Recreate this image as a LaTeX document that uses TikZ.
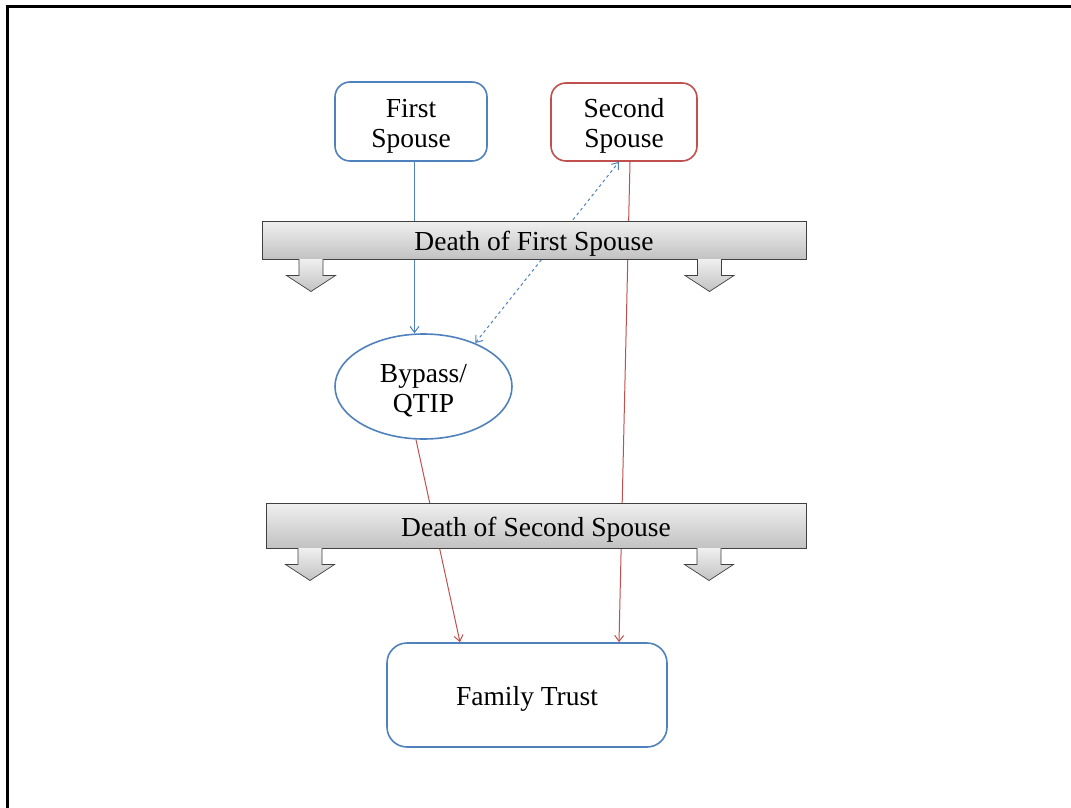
\documentclass[tikz,border=0pt]{standalone}
\usepackage{fontspec}
\setmainfont{Liberation Serif}
\usepackage{tikz}
\usetikzlibrary{shapes.geometric,arrows.meta}
\definecolor{spouseblue}{HTML}{4F81BD}
\definecolor{spousered}{HTML}{C0504D}

\begin{document}
\begin{tikzpicture}[x=10pt,y=10pt]
\tikzstyle{every node}+=[inner sep=0pt, font=\fontsize{27.5}{30}\selectfont, align=center, text height=27pt]
\tikzstyle{twoline}=[text height=57pt]
\tikzstyle{person}=[draw, rounded corners=15pt, line width=1.6pt, fill=white]
\tikzstyle{banner}=[draw=black!75, line width=0.7pt, top color=gray!12, bottom color=gray!48]
\tikzstyle{link}=[line width=1pt, -{Straight Barb[length=6pt,width=9pt]}]
\useasboundingbox (0,0) rectangle (107.1,-80.8);
\draw [black, line width=3pt] (0.7,-80.8) -- (0.7,-0.65) -- (107.1,-0.65);
\node [person, twoline, draw=spouseblue, minimum width=152pt, minimum height=79pt] (first) at (41.1,-12.15) {First\\Spouse};
\node [person, twoline, draw=spousered, minimum width=146pt, minimum height=78pt] (second) at (62.4,-12.2) {Second\\Spouse};
\node [ellipse, twoline, draw=spouseblue, line width=1.6pt, minimum width=177pt, minimum height=105pt] (bypass) at (42.35,-38.65) {Bypass/\\QTIP};
\node [person, draw=spouseblue, rounded corners=20pt, minimum width=280pt, minimum height=104pt] (trust) at (52.7,-69.5) {Family Trust};
\draw [link, spouseblue] ([xshift=3.5pt]first.south) -- ([xshift=3.5pt]first.south |- bypass.north);
\draw [link, spouseblue, dashed, {Straight Barb[length=6pt,width=9pt]}-{Straight Barb[length=6pt,width=9pt]}] (bypass.40) -- ([xshift=-5pt]second.south);
\draw [link, spousered] ([xshift=6pt]second.south) -- ([xshift=92pt]trust.north);
\draw [link, spousered] ([xshift=-7.5pt]bypass.south) -- ([xshift=-67pt]trust.north);
\node [banner, minimum width=544pt, minimum height=38pt] (death1) at (53.4,-24.0) {Death of First Spouse};
\node [banner, minimum width=540pt, minimum height=45pt] (death2) at (53.6,-52.55) {Death of Second Spouse};
\foreach \x/\y in {31.1/-25.9, 70.95/-25.9, 31.0/-54.8, 70.9/-54.8}
  \draw [banner] (\x,\y) ++(-1.2,0) -- ++(0,-1.65) -- ++(-1.25,0) -- ++(2.45,-1.6) -- ++(2.45,1.6) -- ++(-1.25,0) -- ++(0,1.65);
\end{tikzpicture}
\end{document}
